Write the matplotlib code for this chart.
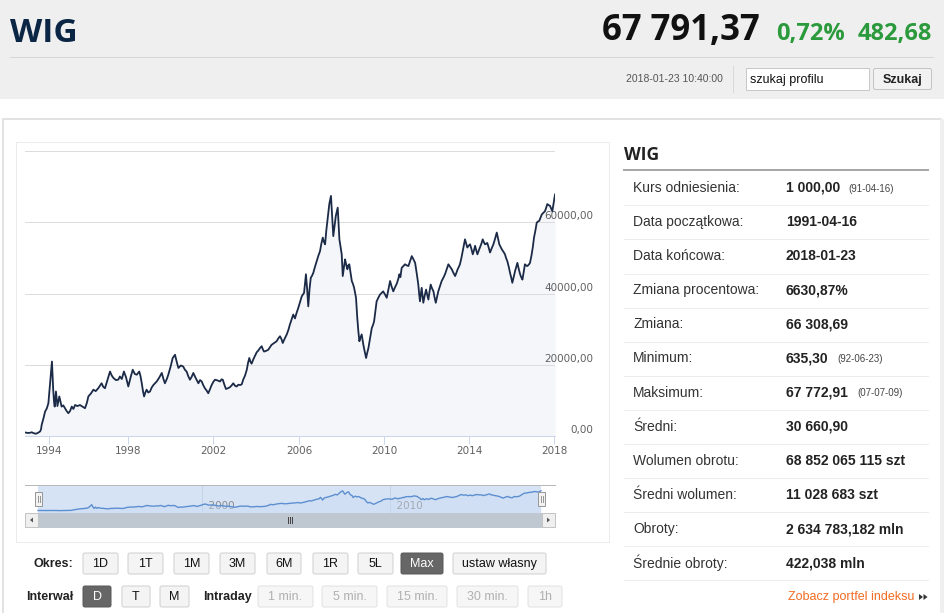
import matplotlib
matplotlib.use('Agg')
import numpy as np
import matplotlib.pyplot as plt
from matplotlib.patches import Rectangle, FancyBboxPatch, Polygon
import matplotlib.transforms as mtransforms

W, H = 945, 613

# ---------------- data ----------------
years = [1991.29, 1991.45, 1991.65, 1991.85, 1992.05, 1992.25, 1992.47, 1992.65, 1992.86,
         1993.00, 1993.10, 1993.17, 1993.38, 1993.55, 1993.76, 1993.93,
         1994.053, 1994.107, 1994.149, 1994.181, 1994.213, 1994.256, 1994.288, 1994.352, 1994.426,
         1994.522, 1994.586, 1994.639, 1994.724, 1994.810, 1994.895, 1994.980, 1995.065, 1995.151,
         1995.236, 1995.321, 1995.438, 1995.566, 1995.704, 1995.822, 1995.918, 1995.992, 1996.131,
         1996.248, 1996.365, 1996.493, 1996.578, 1996.663, 1996.748, 1996.834, 1996.962, 1997.089,
         1997.175, 1997.260, 1997.388, 1997.505, 1997.590, 1997.686, 1997.793, 1997.899, 1998.015,
         1998.124, 1998.223, 1998.322, 1998.411, 1998.530, 1998.589, 1998.648, 1998.708, 1998.757,
         1998.817, 1998.876, 1998.955, 1999.035, 1999.114, 1999.193, 1999.272, 1999.351, 1999.470,
         1999.589, 1999.668, 1999.737, 1999.827, 1999.896, 2000.005, 2000.104, 2000.213, 2000.302,
         2000.371, 2000.490, 2000.599, 2000.678, 2000.757, 2000.836, 2000.916, 2000.995, 2001.074,
         2001.193, 2001.312, 2001.391, 2001.470, 2001.539, 2001.619, 2001.708, 2001.777, 2001.856,
         2001.935, 2002.015, 2002.093, 2002.210, 2002.328, 2002.396, 2002.455, 2002.524, 2002.602,
         2002.690, 2002.788, 2002.866, 2002.944, 2003.023, 2003.101, 2003.179, 2003.258, 2003.336,
         2003.404, 2003.492, 2003.571, 2003.629, 2003.688, 2003.737, 2003.796, 2003.874, 2003.952,
         2004.031, 2004.109, 2004.187, 2004.265, 2004.314, 2004.373, 2004.471, 2004.569, 2004.647,
         2004.725, 2004.843, 2004.960, 2005.038, 2005.117, 2005.185, 2005.244, 2005.332, 2005.430,
         2005.508, 2005.577, 2005.655, 2005.733, 2005.812, 2005.890, 2005.969, 2006.050, 2006.129,
         2006.198, 2006.238, 2006.287, 2006.327, 2006.386, 2006.436, 2006.495, 2006.554, 2006.614,
         2006.673, 2006.752, 2006.832, 2006.911, 2006.990, 2007.049, 2007.119, 2007.168, 2007.228,
         2007.287, 2007.337, 2007.386, 2007.426, 2007.465, 2007.505, 2007.554, 2007.614, 2007.673,
         2007.733, 2007.782, 2007.822, 2007.861, 2007.901, 2007.960, 2008.010, 2008.059, 2008.119,
         2008.168, 2008.218, 2008.277, 2008.317, 2008.366, 2008.426, 2008.485, 2008.545, 2008.594,
         2008.644, 2008.683, 2008.713, 2008.742, 2008.792, 2008.841, 2008.891, 2008.950, 2008.990,
         2009.029, 2009.089, 2009.158, 2009.208, 2009.267, 2009.346, 2009.425, 2009.485, 2009.534,
         2009.594, 2009.653, 2009.732, 2009.812, 2009.891, 2009.960, 2010.050, 2010.129, 2010.208,
         2010.287, 2010.356, 2010.436, 2010.515, 2010.604, 2010.673, 2010.723, 2010.772, 2010.832,
         2010.911, 2010.990, 2011.069, 2011.148, 2011.228, 2011.307, 2011.386, 2011.465, 2011.544,
         2011.614, 2011.653, 2011.693, 2011.733, 2011.772, 2011.812, 2011.851, 2011.911, 2011.980,
         2012.030, 2012.089, 2012.139, 2012.198, 2012.257, 2012.327, 2012.376, 2012.436, 2012.495,
         2012.554, 2012.633, 2012.713, 2012.792, 2012.871, 2012.950, 2013.029, 2013.109, 2013.188,
         2013.267, 2013.346, 2013.406, 2013.465, 2013.524, 2013.574, 2013.643, 2013.703, 2013.762,
         2013.812, 2013.871, 2013.921, 2013.980, 2014.050, 2014.119, 2014.178, 2014.238, 2014.287,
         2014.337, 2014.396, 2014.455, 2014.515, 2014.584, 2014.644, 2014.693, 2014.752, 2014.812,
         2014.861, 2014.931, 2014.990, 2015.069, 2015.148, 2015.228, 2015.307, 2015.366, 2015.426,
         2015.485, 2015.544, 2015.624, 2015.693, 2015.742, 2015.802, 2015.871, 2015.931, 2015.990,
         2016.039, 2016.099, 2016.168, 2016.218, 2016.277, 2016.337, 2016.406, 2016.455, 2016.515,
         2016.574, 2016.633, 2016.683, 2016.742, 2016.812, 2016.871, 2016.911, 2016.950, 2017.010,
         2017.059, 2017.128, 2017.188, 2017.247, 2017.307, 2017.366, 2017.426, 2017.505, 2017.574,
         2017.633, 2017.683, 2017.752, 2017.812, 2017.871, 2017.920, 2017.960, 2018.000, 2018.060]

values = [1000, 920, 860, 900, 1050, 820, 640, 760, 1050,
          1300, 1900, 3100, 5000, 6800, 7800, 9200,
          14800, 18500, 20900, 17000, 13000, 9500, 8250, 12500, 8400,
          11100, 9500, 8250, 8600, 7800, 7000, 6400, 7000, 8250,
          7600, 8700, 8400, 8700, 8200, 7800, 9300, 11100, 12000,
          13000, 12600, 13400, 14100, 14800, 13800, 13400, 15800, 18100,
          17000, 16300, 15700, 15800, 16700, 16000, 18100, 16500, 13900,
          16500, 18600, 17400, 17200, 18100, 16800, 14800, 12500, 11100,
          12200, 13000, 12200, 12500, 13600, 14300, 14800, 15300, 16400,
          17700, 16000, 14800, 16000, 17200, 19500, 21900, 22800, 20600,
          19100, 19800, 19500, 18600, 18100, 16800, 15800, 16600, 17700,
          16200, 14800, 15700, 15300, 14300, 13400, 12700, 12000, 13100,
          14300, 15200, 15800, 15600, 15300, 15900, 15800, 14500, 13200,
          13400, 13700, 14200, 14800, 14100, 13900, 14400, 14300, 14500,
          15800, 17000, 18600, 20500, 21900, 20900, 20300, 21500, 22500,
          23500, 24000, 24700, 25200, 24400, 23700, 23900, 24200, 24900,
          25600, 26100, 26600, 27400, 28000, 27200, 26100, 27300, 28500,
          29800, 31300, 32700, 34100, 33000, 34600, 36000, 37600, 39200,
          39800, 40200, 43000, 45400, 41000, 36400, 41200, 44400, 45000,
          45800, 47500, 49100, 50600, 51900, 53900, 55700, 54600, 53800,
          57800, 60400, 62700, 65100, 66300, 67400, 62500, 56100, 59000,
          61800, 63000, 64100, 59500, 55200, 53000, 51000, 44900, 47500,
          49600, 48200, 46800, 47800, 48200, 45800, 43500, 42600, 41600,
          40000, 38800, 36000, 33200, 29500, 26600, 27600, 28500, 27000,
          25600, 23800, 21900, 23300, 24700, 27500, 30300, 31200, 32200,
          35000, 37800, 38800, 39700, 40200, 40600, 39700, 38800, 41200,
          43500, 42000, 40600, 41700, 42800, 44100, 45400, 44600, 47200,
          47700, 48200, 47900, 47700, 49100, 50500, 49600, 48600, 45500,
          42500, 40000, 37800, 39700, 41600, 39500, 37400, 39300, 41100,
          39700, 38300, 40400, 42500, 41500, 40600, 39000, 37400, 39000,
          40600, 42000, 43500, 44400, 45400, 46800, 48200, 47500, 46800,
          45800, 44900, 45800, 46800, 47500, 48200, 50000, 51900, 53600,
          55200, 54000, 52900, 53400, 53800, 52400, 51000, 52200, 53400,
          52200, 51000, 52000, 52900, 54000, 55200, 54500, 53800, 54000,
          54200, 52800, 51500, 52700, 53800, 55400, 57100, 55500, 53800,
          53100, 52400, 51700, 51000, 50000, 49100, 47500, 45800, 44400,
          43000, 44600, 46300, 47400, 48600, 47000, 45400, 44600, 43900,
          46000, 48200, 47900, 47700, 48100, 48600, 49800, 51000, 53300,
          55700, 57800, 59900, 60200, 60400, 61300, 62200, 62700, 63100,
          64100, 65100, 64800, 64600, 63800, 63100, 64500, 66000, 67790]

# ordinal (trading-session) time scale of the main chart: year -> relative session position
session_years = [1991.29, 1994, 1998, 2002, 2006, 2010, 2014, 2018, 2018.06]
session_index = [0, 24, 103, 188, 274, 359, 444, 529, 530]

x_ticks = [1994, 1998, 2002, 2006, 2010, 2014, 2018]
y_ticks = [0, 20000, 40000, 60000]
y_tick_labels = ['0,00', '20000,00', '40000,00', '60000,00']
grid_levels = [20000, 40000, 60000, 80000]
nav_ticks = [2000, 2010]

title = 'WIG'
last_value = '67 791,37'
change_pct = '0,72%'
change_abs = '482,68'
timestamp = '2018-01-23 10:40:00'

table_labels = ['Kurs odniesienia:', 'Data początkowa:', 'Data końcowa:', 'Zmiana procentowa:',
                'Zmiana:', 'Minimum:', 'Maksimum:', 'Średni:', 'Wolumen obrotu:',
                'Średni wolumen:', 'Obroty:', 'Średnie obroty:']
table_values = ['1 000,00', '1991-04-16', '2018-01-23', '6630,87%', '66 308,69', '635,30',
                '67 772,91', '30 660,90', '68 852 065 115 szt', '11 028 683 szt',
                '2 634 783,182 mln', '422,038 mln']
table_dates = ['(91-04-16)', '', '', '', '', '(92-06-23)', '(07-07-09)', '', '', '', '', '']

period_buttons = ['1D', '1T', '1M', '3M', '6M', '1R', '5L', 'Max', 'ustaw własny']
interval_buttons = ['D', 'T', 'M']
intraday_buttons = ['1 min.', '5 min.', '15 min.', '30 min.', '1h']

# ---------------- figure ----------------
fig = plt.figure(figsize=(W / 100, H / 100), dpi=100)
fig.patch.set_facecolor('white')


def px_rect(x0, y0, x1, y1):
    return [x0 / W, 1 - y1 / H, (x1 - x0) / W, (y1 - y0) / H]


bg = fig.add_axes([0, 0, 1, 1], zorder=0)
bg.set_xlim(0, W); bg.set_ylim(H, 0); bg.axis('off')
fg = fig.add_axes([0, 0, 1, 1], zorder=10)
fg.set_xlim(0, W); fg.set_ylim(H, 0); fg.axis('off'); fg.patch.set_alpha(0)

LW = 0.72  # one pixel in points
SANS = 'Liberation Sans'
OPEN = 'Open Sans'

# header
bg.add_patch(Rectangle((0, 0), W, 99, facecolor='#efefef', edgecolor='none'))
bg.plot([10, 933], [57, 57], color='#d6d6d6', lw=LW)
bg.text(10, 42, title, fontsize=24, fontweight='bold', color='#0b2545', family=OPEN, va='baseline', ha='left')
bg.text(760, 40, last_value, fontsize=25, fontweight='bold', color='#111111', family=OPEN, va='baseline', ha='right')
bg.text(776, 40, change_pct, fontsize=17, fontweight='bold', color='#2b9a3c', family=OPEN, va='baseline', ha='left')
bg.text(932, 40, change_abs, fontsize=17, fontweight='bold', color='#2b9a3c', family=OPEN, va='baseline', ha='right')
bg.text(723, 79, timestamp, fontsize=7.5, color='#555555', family=SANS, va='center', ha='right')
bg.plot([733, 733], [66, 92], color='#d8d8d8', lw=LW)
bg.add_patch(Rectangle((745.5, 67.5), 123, 22, facecolor='white', edgecolor='#c8c8c8', lw=LW))
bg.text(750, 79.5, 'szukaj profilu', fontsize=9, color='#111111', family=SANS, va='center', ha='left')
bg.add_patch(FancyBboxPatch((873.5, 68.5), 58, 21, boxstyle='round,pad=0,rounding_size=2',
                            facecolor='#f2f2f2', edgecolor='#c4c4c4', lw=LW))
bg.text(902.5, 79.5, 'Szukaj', fontsize=9, fontweight='bold', color='#222222', family=SANS, va='center', ha='center')

# panel
bg.add_patch(Rectangle((2.5, 119), 938, 520, facecolor='white', edgecolor='#e2e2e2', lw=2 * LW))
bg.add_patch(Rectangle((15.5, 141.5), 593, 400, facecolor='white', edgecolor='#ebebeb', lw=LW))

# ---------------- main chart ----------------
ax = fig.add_axes(px_rect(25, 151, 555, 436), zorder=2)
ax.set_facecolor('none')


def to_session(x):
    return np.interp(x, session_years, session_index)


def from_session(s):
    return np.interp(s, session_index, session_years)


ax.set_xscale('function', functions=(to_session, from_session))
ax.set_xlim(session_years[0], session_years[-1])
ax.set_ylim(0, 80000)
ax.fill_between(years, values, 0, color='#f5f6f9', zorder=1, lw=0)
for g in grid_levels:
    ax.axhline(g, color='#dcdcdc', lw=LW, zorder=1.5)
ax.plot(years, values, color='#1b2a47', lw=1.3, zorder=3, solid_joinstyle='round')
for s in ['top', 'left', 'right']:
    ax.spines[s].set_visible(False)
ax.spines['bottom'].set_color('#ccd6eb')
ax.spines['bottom'].set_linewidth(LW)
ax.set_yticks([])
ax.set_xticks(x_ticks)
ax.set_xticklabels([str(t) for t in x_ticks])
ax.xaxis.set_minor_locator(matplotlib.ticker.NullLocator())
ax.tick_params(axis='x', length=8 * LW, width=LW, color='#ccd6eb', labelcolor='#606060',
               labelsize=7.5, pad=1.5)
for lab in ax.get_xticklabels():
    lab.set_family('DejaVu Sans')
lab_tr = mtransforms.offset_copy(ax.get_yaxis_transform(), fig=fig, x=0, y=6, units='dots')
for v, s in zip(y_ticks, y_tick_labels):
    ax.text((593 - 25) / 530, v, s, transform=lab_tr, ha='right', va='center', fontsize=7.5,
            color='#606060', family='DejaVu Sans', zorder=2, clip_on=False)

# ---------------- navigator ----------------
nav = fig.add_axes(px_rect(25, 485, 555, 513), zorder=2)
nav.set_facecolor('white')
nav_x0 = years[0] - 13 * (years[-1] - years[0]) / 503
nav_x1 = years[-1] + 14 * (years[-1] - years[0]) / 503
nav.set_xlim(nav_x0, nav_x1)
nav.set_ylim(-7500, 87300)
nav.axvspan(years[0], years[-1], color='#d5e3f5', lw=0, zorder=0)
for t in nav_ticks:
    nav.axvline(t, color='#c3d2e6', lw=LW, zorder=1)
    nav.text(t, 16000, '  ' + str(t), ha='left', va='center', fontsize=7.5, color='#8a8a8a',
             family='DejaVu Sans', zorder=1)
nav.fill_between(years, values, -7500, color='#c9dbf2', lw=0, zorder=1.5, alpha=0.4)
nav.plot(years, values, color='#5d8fd0', lw=1.0, zorder=2)
for s in ['bottom', 'left', 'right']:
    nav.spines[s].set_visible(False)
nav.spines['top'].set_color('#b8b8b8')
nav.spines['top'].set_linewidth(LW)
nav.set_xticks([]); nav.set_yticks([])

# navigator handles
for hx in [38.5, 541.5]:
    fg.add_patch(Rectangle((hx - 3.5, 492), 7, 14, facecolor='#f2f2f2', edgecolor='#999999', lw=LW))
    fg.plot([hx - 1, hx - 1], [496, 502], color='#999999', lw=LW)
    fg.plot([hx + 1, hx + 1], [496, 502], color='#999999', lw=LW)

# scrollbar
fg.add_patch(Rectangle((25, 513), 530, 14, facecolor='#eeeeee', edgecolor='#cccccc', lw=LW))
fg.add_patch(Rectangle((38, 513), 503, 14, facecolor='#bfc7d0', edgecolor='#bfc7d0', lw=LW))
fg.add_patch(Rectangle((25, 513), 13, 14, facecolor='#efefef', edgecolor='#c4c4c4', lw=LW))
fg.add_patch(Rectangle((542, 513), 13, 14, facecolor='#efefef', edgecolor='#c4c4c4', lw=LW))
fg.add_patch(Polygon([[30, 520], [33, 517.5], [33, 522.5]], closed=True, facecolor='#555555', edgecolor='none'))
fg.add_patch(Polygon([[550, 520], [547, 517.5], [547, 522.5]], closed=True, facecolor='#555555', edgecolor='none'))
for gx in [287.5, 289.5, 291.5]:
    fg.plot([gx, gx], [517, 523], color='#444444', lw=LW)


# ---------------- buttons ----------------
def button(x0, x1, y0, y1, text, kind='normal'):
    if kind == 'active':
        fc, ec, tc = '#666666', '#5a5a5a', 'white'
    elif kind == 'disabled':
        fc, ec, tc = '#f6f6f6', '#e2e2e2', '#b0b0b0'
    else:
        fc, ec, tc = '#f4f4f4', '#d0d0d0', '#111111'
    bg.add_patch(FancyBboxPatch((x0, y0), x1 - x0, y1 - y0, boxstyle='round,pad=0,rounding_size=2',
                                facecolor=fc, edgecolor=ec, lw=LW))
    bg.text((x0 + x1) / 2, (y0 + y1) / 2 + 0.5, text, ha='center', va='center', fontsize=9,
            color=tc, family=SANS)


bg.text(73, 564, 'Okres:', ha='right', va='center', fontsize=9, fontweight='bold', color='#222222', family=SANS)
period_x = [(83, 118), (128, 163), (174, 209), (220, 255), (267, 301), (313, 348), (358, 393), (401, 443), (453, 546)]
for (a, b), t in zip(period_x, period_buttons):
    button(a, b, 553, 574, t, 'active' if t == 'Max' else 'normal')

bg.text(73, 597, 'Interwał', ha='right', va='center', fontsize=9, fontweight='bold', color='#222222', family=SANS)
interval_x = [(83, 111), (122, 150), (160, 189)]
for (a, b), t in zip(interval_x, interval_buttons):
    button(a, b, 586, 607, t, 'active' if t == 'D' else 'normal')
bg.text(203, 597, 'Intraday', ha='left', va='center', fontsize=9, fontweight='bold', color='#222222', family=SANS)
intraday_x = [(258, 313), (322, 377), (387, 447), (457, 518), (528, 562)]
for (a, b), t in zip(intraday_x, intraday_buttons):
    button(a, b, 586, 607, t, 'disabled')

# ---------------- right table ----------------
bg.text(624, 155, title, ha='left', va='center', fontsize=12.5, fontweight='bold', color='#222222', family=OPEN)
bg.plot([624, 928], [170, 170], color='#a8a8a8', lw=2 * LW)
date_x = [848, 0, 0, 0, 0, 837, 857, 0, 0, 0, 0, 0]
for i, (lab, val, dt) in enumerate(zip(table_labels, table_values, table_dates)):
    yc = 188 + 34.1 * i
    bg.text(633, yc, lab, ha='left', va='center', fontsize=10, color='#333333', family=SANS)
    bg.text(786, yc, val, ha='left', va='center', fontsize=10, fontweight='bold', color='#222222', family=SANS)
    if dt:
        bg.text(date_x[i], yc + 0.5, dt, ha='left', va='center', fontsize=7, color='#444444', family=SANS)
    bg.plot([624, 928], [yc + 17.3, yc + 17.3], color='#ececec', lw=LW)
bg.text(914, 597, 'Zobacz portfel indeksu', ha='right', va='center', fontsize=9, color='#f26b21', family=SANS)
bg.add_patch(Polygon([[919, 594], [923, 597], [919, 600]], closed=True, facecolor='#333333', edgecolor='none'))
bg.add_patch(Polygon([[923.5, 594], [927.5, 597], [923.5, 600]], closed=True, facecolor='#333333', edgecolor='none'))
bg.add_patch(Rectangle((940, 119), 5, 500, facecolor='#efefef', edgecolor='none'))

fig.savefig('out.png', dpi=100)
